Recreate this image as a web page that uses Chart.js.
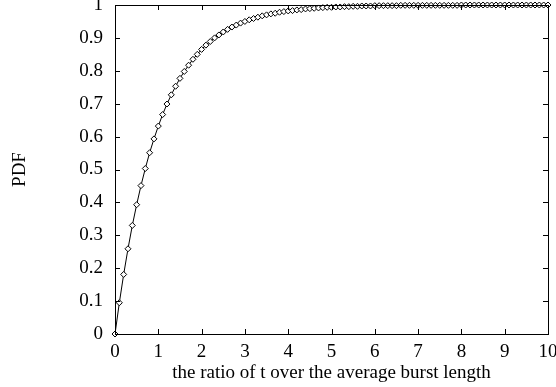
<!DOCTYPE html>
<html>
<head>
<meta charset="utf-8">
<script src="https://cdn.jsdelivr.net/npm/chart.js@4.4.0/dist/chart.umd.min.js"></script>
<style>
  html, body { margin: 0; padding: 0; background: #fff; }
  canvas { display: block; }
</style>
</head>
<body>
<canvas id="chart" width="556" height="387"></canvas>
<script>
// x positions (ratio of t over the average burst length)
const ratio = [
  0, 0.1, 0.2, 0.3, 0.4, 0.5, 0.6, 0.7, 0.8, 0.9,
  1, 1.1, 1.2, 1.3, 1.4, 1.5, 1.6, 1.7, 1.8, 1.9,
  2, 2.1, 2.2, 2.3, 2.4, 2.5, 2.6, 2.7, 2.8, 2.9,
  3, 3.1, 3.2, 3.3, 3.4, 3.5, 3.6, 3.7, 3.8, 3.9,
  4, 4.1, 4.2, 4.3, 4.4, 4.5, 4.6, 4.7, 4.8, 4.9,
  5, 5.1, 5.2, 5.3, 5.4, 5.5, 5.6, 5.7, 5.8, 5.9,
  6, 6.1, 6.2, 6.3, 6.4, 6.5, 6.6, 6.7, 6.8, 6.9,
  7, 7.1, 7.2, 7.3, 7.4, 7.5, 7.6, 7.7, 7.8, 7.9,
  8, 8.1, 8.2, 8.3, 8.4, 8.5, 8.6, 8.7, 8.8, 8.9,
  9, 9.1, 9.2, 9.3, 9.4, 9.5, 9.6, 9.7, 9.8, 9.9,
  10
];

// values
const pdf = [
  0, 0.095, 0.181, 0.259, 0.330, 0.393, 0.451, 0.503, 0.551, 0.593,
  0.632, 0.667, 0.699, 0.727, 0.753, 0.777, 0.798, 0.817, 0.835, 0.850,
  0.865, 0.878, 0.889, 0.900, 0.909, 0.918, 0.926, 0.933, 0.939, 0.945,
  0.950, 0.955, 0.959, 0.963, 0.967, 0.970, 0.973, 0.975, 0.978, 0.980,
  0.982, 0.983, 0.985, 0.986, 0.988, 0.989, 0.990, 0.991, 0.992, 0.993,
  0.993, 0.994, 0.994, 0.995, 0.995, 0.996, 0.996, 0.997, 0.997, 0.997,
  0.998, 0.998, 0.998, 0.998, 0.998, 0.998, 0.999, 0.999, 0.999, 0.999,
  0.999, 0.999, 0.999, 0.999, 0.999, 0.999, 0.999, 0.999, 0.999, 0.999,
  1.000, 1.000, 1.000, 1.000, 1.000, 1.000, 1.000, 1.000, 1.000, 1.000,
  1.000, 1.000, 1.000, 1.000, 1.000, 1.000, 1.000, 1.000, 1.000, 1.000,
  1.000
];

const xTicks = [0, 1, 2, 3, 4, 5, 6, 7, 8, 9, 10];
const yTicks = [0, 0.1, 0.2, 0.3, 0.4, 0.5, 0.6, 0.7, 0.8, 0.9, 1];

const FONT = "'Liberation Serif', 'Times New Roman', serif";

// gnuplot-style frame with inward ticks on all four sides
const frameTicks = {
  id: 'frameTicks',
  afterDraw(chart) {
    const { ctx, chartArea: a, scales } = chart;
    const len = 5;
    ctx.save();
    ctx.strokeStyle = '#000';
    ctx.lineWidth = 1;
    ctx.beginPath();
    scales.x.ticks.forEach(t => {
      const px = Math.round(scales.x.getPixelForValue(t.value)) + 0.5;
      ctx.moveTo(px, a.bottom); ctx.lineTo(px, a.bottom - len);
      ctx.moveTo(px, a.top); ctx.lineTo(px, a.top + len);
    });
    scales.y.ticks.forEach(t => {
      const py = Math.round(scales.y.getPixelForValue(t.value)) + 0.5;
      ctx.moveTo(a.left, py); ctx.lineTo(a.left + len, py);
      ctx.moveTo(a.right, py); ctx.lineTo(a.right - len, py);
    });
    ctx.stroke();
    ctx.strokeRect(Math.round(a.left) + 0.5, Math.round(a.top) + 0.5,
      Math.round(a.right - a.left), Math.round(a.bottom - a.top));
    ctx.restore();
  }
};

new Chart(document.getElementById('chart'), {
  type: 'line',
  data: {
    datasets: [{
      data: ratio.map((x, i) => ({ x: x, y: pdf[i] })),
      borderColor: '#000',
      borderWidth: 1,
      pointStyle: 'rectRot',
      pointRadius: 3,
      pointBorderWidth: 1,
      pointBorderColor: '#000',
      pointBackgroundColor: '#fff',
      tension: 0,
      clip: false
    }]
  },
  options: {
    responsive: false,
    animation: false,
    devicePixelRatio: 1,
    layout: { padding: { top: 5, right: 8, left: 0, bottom: 0 } },
    plugins: { legend: { display: false }, tooltip: { enabled: false } },
    scales: {
      x: {
        type: 'linear',
        min: 0,
        max: 10,
        afterBuildTicks: s => { s.ticks = xTicks.map(v => ({ value: v })); },
        afterFit: s => { s.height = 53; s.paddingLeft = 0; s.paddingRight = 0; },
        grid: { display: false, drawTicks: false },
        border: { display: false },
        ticks: { color: '#000', padding: 7, maxRotation: 0, font: { family: FONT, size: 19 } },
        title: {
          display: true,
          text: 'the ratio of t over the average burst length',
          color: '#000',
          padding: { top: 0, bottom: 3 },
          font: { family: FONT, size: 19 }
        }
      },
      y: {
        type: 'linear',
        min: 0,
        max: 1,
        afterBuildTicks: s => { s.ticks = yTicks.map(v => ({ value: v })); },
        afterFit: s => { s.width = 115; s.paddingTop = 0; s.paddingBottom = 0; },
        grid: { display: false, drawTicks: false },
        border: { display: false },
        ticks: {
          color: '#000', padding: 12, font: { family: FONT, size: 19 },
          callback: v => String(v)
        },
        title: {
          display: true,
          text: 'PDF',
          color: '#000',
          padding: { top: 9, bottom: 0 },
          font: { family: FONT, size: 19 }
        }
      }
    }
  },
  plugins: [frameTicks]
});
</script>
</body>
</html>
